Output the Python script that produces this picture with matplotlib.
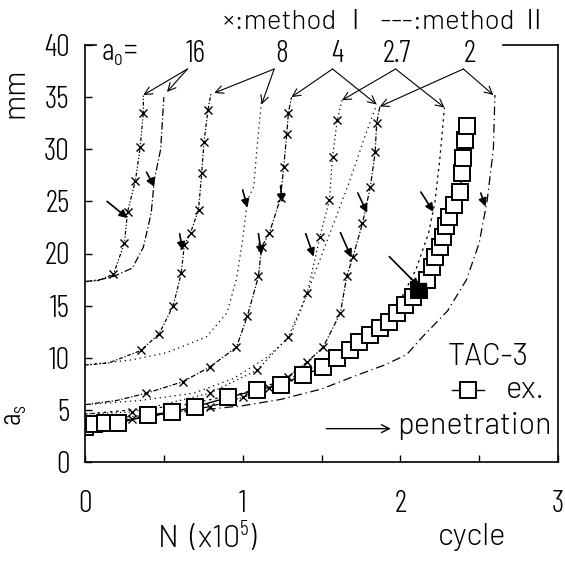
import matplotlib
matplotlib.use("Agg")
import matplotlib.pyplot as plt
from matplotlib import font_manager

# crack depth a_s (mm) vs N (x10^5 cycle), TAC-3
names = {f.name for f in font_manager.fontManager.ttflist}
if 'Barlow Condensed' in names:
    plt.rcParams['font.family'] = ['Barlow Condensed', 'DejaVu Sans', 'Noto Sans CJK JP']
    plt.rcParams['font.weight'] = 300
else:
    plt.rcParams['font.family'] = ['DejaVu Sans', 'Noto Sans CJK JP']
    plt.rcParams['font.stretch'] = 'condensed'
plt.rcParams['mathtext.fontset'] = 'custom'
plt.rcParams['mathtext.rm'] = plt.rcParams['font.family'][0]
# wider face for the words
WORD = ['Barlow', 'Noto Sans CJK JP', 'DejaVu Sans'] if 'Barlow' in names else ['DejaVu Sans', 'Noto Sans CJK JP']

# experiment (squares)
ex_N = [0, 0.06, 0.13, 0.21, 0.40, 0.55, 0.70, 0.91, 1.09, 1.24, 1.38, 1.51, 1.60, 1.68,
        1.74, 1.81, 1.87, 1.93, 1.98, 2.03, 2.08, 2.12, 2.17, 2.20, 2.22, 2.25, 2.27,
        2.29, 2.31, 2.34, 2.38, 2.39, 2.40, 2.41, 2.42]
ex_a = [3.4, 3.6, 3.7, 3.7, 4.5, 4.8, 5.3, 6.2, 6.9, 7.4, 8.3, 9.1, 10.0, 10.7,
        11.5, 12.2, 12.9, 13.4, 14.3, 15.1, 15.8, 16.5, 17.5, 18.7, 19.7, 20.6, 21.6,
        22.6, 23.5, 24.7, 25.9, 27.7, 29.2, 30.9, 32.2]
ex_filled = 21  # dark square (penetration)

# method I (x markers); first point = start on the axis, last = end
m1_16_N = [0, 0.08, 0.18, 0.25, 0.27, 0.32, 0.35, 0.37, 0.37]
m1_16_a = [17.3, 17.4, 18.0, 21.0, 24.0, 27.0, 30.2, 33.5, 35.2]
m1_8_N = [0, 0.15, 0.355, 0.47, 0.56, 0.61, 0.63, 0.67, 0.72, 0.74, 0.755, 0.78, 0.80]
m1_8_a = [9.3, 9.5, 10.7, 12.3, 15.0, 18.1, 20.8, 22.0, 24.2, 27.7, 30.7, 33.8, 35.4]
m1_4_N = [0, 0.20, 0.39, 0.62, 0.79, 0.96, 1.03, 1.10, 1.12, 1.17, 1.24, 1.26, 1.28, 1.29, 1.31]
m1_4_a = [5.5, 5.9, 6.6, 7.7, 9.1, 11.0, 14.0, 17.8, 20.6, 22.0, 25.3, 28.3, 31.5, 33.5, 35.0]
m1_27_N = [0, 0.30, 0.79, 1.09, 1.29, 1.41, 1.49, 1.55, 1.57, 1.60, 1.63]
m1_27_a = [4.6, 4.8, 6.6, 8.8, 12.0, 16.2, 21.6, 25.1, 29.3, 32.8, 34.7]
m1_2_N = [0, 0.30, 0.79, 1.00, 1.17, 1.29, 1.41, 1.51, 1.62, 1.66, 1.70, 1.76, 1.81, 1.84, 1.85, 1.87]
m1_2_a = [3.9, 4.1, 5.3, 6.2, 7.1, 8.2, 9.6, 11.0, 14.3, 17.8, 19.7, 22.9, 26.4, 29.7, 32.5, 34.1]

# method II (no markers)
m2_16_N = [0, 0.10, 0.18, 0.30, 0.37, 0.42, 0.44, 0.48, 0.50]
m2_16_a = [17.3, 17.5, 17.8, 18.6, 20.6, 23.9, 27.1, 30.0, 35.0]
m2_8_N = [0, 0.30, 0.52, 0.77, 0.90, 0.96, 1.00, 1.03, 1.07, 1.09, 1.12]
m2_8_a = [9.3, 9.8, 10.5, 12.0, 14.3, 17.5, 21.3, 25.1, 26.4, 30.0, 34.7]
m2_4_N = [0, 0.35, 0.69, 0.94, 1.15, 1.30, 1.38, 1.48, 1.58, 1.68, 1.77, 1.85]
m2_4_a = [5.5, 5.9, 6.6, 8.0, 10.0, 12.0, 15.0, 19.0, 23.0, 27.0, 31.0, 34.3]
m2_27_N = [0, 0.60, 1.00, 1.30, 1.60, 1.85, 2.00, 2.10, 2.18, 2.22, 2.25, 2.28]
m2_27_a = [4.6, 5.4, 6.6, 8.0, 10.2, 13.0, 15.5, 18.5, 22.0, 25.0, 29.0, 34.0]
m2_2_N = [0, 0.50, 1.00, 1.24, 1.50, 1.72, 1.90, 2.04, 2.14, 2.30, 2.42, 2.50, 2.55, 2.59, 2.60]
m2_2_a = [4.0, 4.6, 5.4, 6.0, 7.0, 8.3, 9.3, 10.3, 12.0, 14.5, 17.5, 21.0, 25.0, 30.0, 35.2]

# a0 labels and the curve ends they point at
a0_labels = ['16', '8', '4', '2.7', '2']
a0_text_N = [0.70, 1.25, 1.60, 1.98, 2.44]
a0_from_N = [0.65, 1.20, 1.57, 1.97, 2.40]
a0_tips = [[(0.37, 35.2), (0.52, 35.5)], [(0.82, 35.4), (1.12, 34.3)],
           [(1.31, 35.0), (1.85, 34.3)], [(1.63, 34.7), (2.28, 34.0)],
           [(1.87, 34.1), (2.59, 35.2)]]

# penetration arrows (tail, tip)
pen_tail = [(0.14, 25.0), (0.39, 27.8), (0.60, 21.9), (1.00, 26.1), (1.10, 21.9),
            (1.24, 26.5), (1.40, 21.9), (1.62, 22.0), (1.73, 25.8), (2.13, 25.9),
            (2.51, 25.8), (1.93, 19.7)]
pen_tip = [(0.27, 23.4), (0.44, 26.4), (0.62, 20.3), (1.03, 24.4), (1.12, 19.9),
           (1.25, 24.9), (1.45, 19.7), (1.69, 19.6), (1.79, 23.9), (2.21, 24.0),
           (2.54, 24.5), (2.12, 16.8)]

# legend sample
leg_N = [2.33, 2.43, 2.53]
leg_a = [6.9, 6.9, 6.9]

FS = 22

fig = plt.figure(figsize=(5.65, 5.65), dpi=100)
ax = fig.add_axes([85 / 565, 1 - 462 / 565, 473 / 565, 417 / 565])

lw = 0.9
mk = dict(marker='x', markersize=6, markeredgewidth=1.0, color='black', lw=lw)
ax.plot(m1_16_N, m1_16_a, linestyle=(0, (3, 1.5, 1, 1.5, 1, 1.5)), markevery=list(range(2, 8)), **mk)
ax.plot(m1_8_N, m1_8_a, linestyle=(0, (3, 1.5, 1, 1.5)), markevery=list(range(2, 12)), **mk)
ax.plot(m1_4_N, m1_4_a, linestyle=(0, (4, 1.5, 1, 1.5)), markevery=list(range(2, 14)), **mk)
ax.plot(m1_27_N, m1_27_a, linestyle=(0, (1, 2.5)), markevery=list(range(1, 10)), **mk)
ax.plot(m1_2_N, m1_2_a, linestyle=(0, (4, 1.5, 1, 1.5)), markevery=list(range(1, 15)), **mk)

ax.plot(m2_16_N, m2_16_a, color='black', lw=lw, linestyle=(0, (6, 2, 1, 2)))
ax.plot(m2_8_N, m2_8_a, color='black', lw=lw, linestyle=(0, (1, 3)))
ax.plot(m2_4_N, m2_4_a, color='black', lw=lw, linestyle=(0, (1, 3)))
ax.plot(m2_27_N, m2_27_a, color='black', lw=lw, linestyle=(0, (2, 3)))
ax.plot(m2_2_N, m2_2_a, color='black', lw=lw, linestyle=(0, (7, 3, 1, 3)))

sq = dict(color='black', lw=1.0, markersize=12, markerfacecolor='white', markeredgewidth=1.4)
ax.plot(ex_N, ex_a, '-s', **sq)
ax.plot(ex_N[ex_filled], ex_a[ex_filled], 's', color='black', markersize=10)

for lab, tn, fn, tips in zip(a0_labels, a0_text_N, a0_from_N, a0_tips):
    ax.text(tn, 39.1, lab, ha='center', va='center', fontsize=FS)
    for tip in tips:
        ax.annotate('', xy=tip, xytext=(fn, 37.7),
                    arrowprops=dict(arrowstyle='->', lw=0.8, color='black',
                                    shrinkA=0, shrinkB=0, mutation_scale=14))
ax.text(0.10, 39.1, 'a$_\\mathrm{o}$=', ha='left', va='center', fontsize=FS)

for t, p in zip(pen_tail, pen_tip):
    ax.annotate('', xy=p, xytext=t,
                arrowprops=dict(arrowstyle='-|>', lw=1.2, color='black',
                                shrinkA=0, shrinkB=0, mutation_scale=12))

ax.set_xlim(0, 3)
ax.set_ylim(0, 40)
ax.set_xticks([0, 0.5, 1, 1.5, 2, 2.5, 3])
ax.set_xticklabels(['0', '', '1', '', '2', '', '3'])
ax.set_yticks(range(0, 41, 5))
ax.tick_params(direction='in', length=5, width=1, labelsize=FS, colors='black')
ax.tick_params(axis='x', pad=20)
ax.tick_params(axis='y', pad=11)
ax.spines['top'].set_visible(False)
for s in ['left', 'right', 'bottom']:
    ax.spines[s].set_linewidth(1.2)
ax.plot([0, 0.07], [40, 40], color='black', lw=1.2, clip_on=False)
ax.plot([2.65, 3.0], [40, 40], color='black', lw=1.2, clip_on=False)

# legend block
fig.text(488 / 565, 1 - 357 / 565, 'TAC-3', ha='center', va='center', fontsize=FS, family=WORD)
ax.plot(leg_N, leg_a, '-s', markevery=[1], **sq)
fig.text(506 / 565, 1 - 390 / 565, 'ex.', ha='left', va='center', fontsize=FS, family=WORD)
ax.annotate('', xy=(1.94, 3.2), xytext=(1.53, 3.2),
            arrowprops=dict(arrowstyle='->', lw=1.0, color='black', shrinkA=0, shrinkB=0,
                            mutation_scale=14))
fig.text(397 / 565, 1 - 426 / 565, 'penetration', ha='left', va='center', fontsize=FS,
         family=WORD)

# header and axis titles
fig.text(385 / 565, 1 - 22 / 565, '×:method Ⅰ  ---:method Ⅱ', ha='center', va='center',
         fontsize=20, family=WORD)
fig.text(15 / 565, 1 - 93 / 565, 'mm', rotation=90, ha='center', va='center', fontsize=FS,
         family=WORD)
fig.text(15 / 565, 1 - 415 / 565, 'a$_\\mathrm{s}$', rotation=90, ha='center', va='center',
         fontsize=FS)
fig.text(208 / 565, 1 - 537 / 565, 'N  (x10$^5$)', ha='center', va='center', fontsize=FS,
         family=WORD)
fig.text(472 / 565, 1 - 537 / 565, 'cycle', ha='center', va='center', fontsize=FS, family=WORD)

fig.savefig('out.png', dpi=100, facecolor='white')
